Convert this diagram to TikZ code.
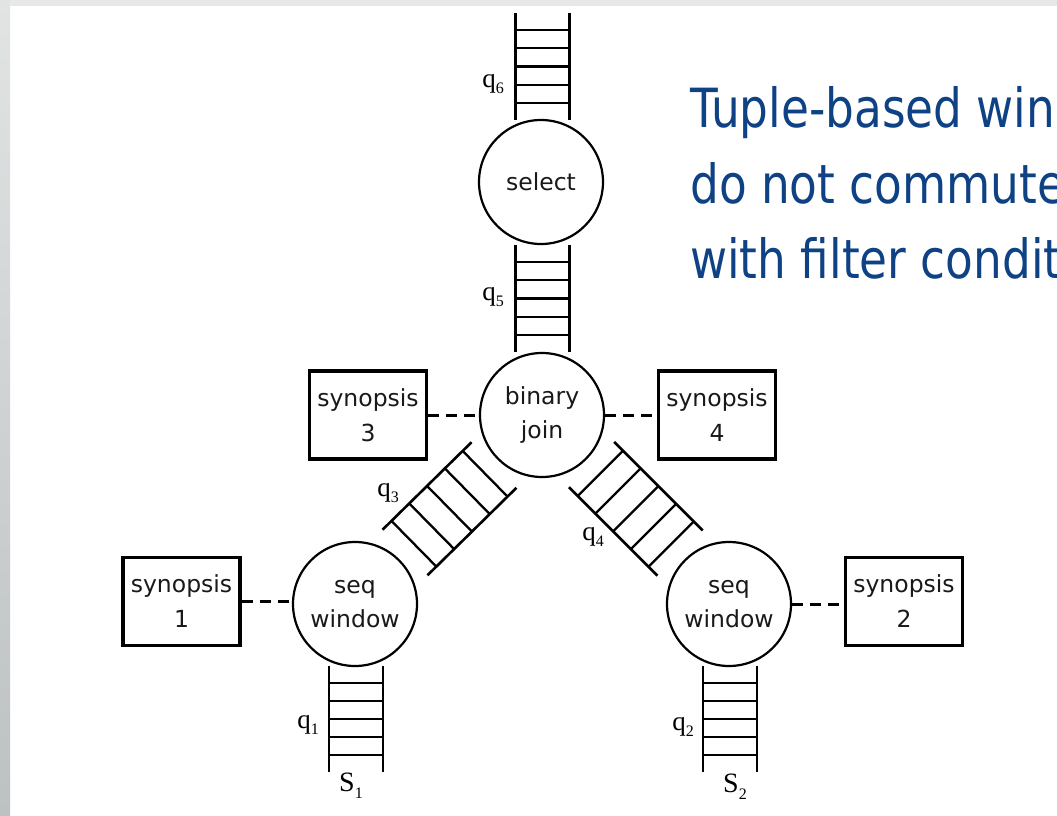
\documentclass[tikz,border=0pt]{standalone}
\usepackage{fontspec}
\setmainfont{DejaVu Sans}
\newfontfamily\qfont{Liberation Serif}
\newfontfamily\bluefont[FakeStretch=0.84]{DejaVu Sans}
\usetikzlibrary{calc}
\definecolor{slideblue}{RGB}{14,66,132}
\definecolor{edgegray}{RGB}{226,228,228}
\definecolor{edgedark}{RGB}{188,193,193}
\definecolor{topgray}{RGB}{230,231,232}
\definecolor{inkgray}{RGB}{25,25,25}
\tikzset{
  opcircle/.style={circle, draw, line width=2.2pt, minimum size=124pt, inner sep=0pt,
    align=center, text=inkgray, font=\fontsize{23.5}{34}\selectfont},
  synbox/.style={rectangle, draw, line width=3.5pt, minimum width=117pt,
    minimum height=88pt, inner sep=0pt, align=center, text=inkgray,
    font=\fontsize{23.5}{35}\selectfont},
  synlink/.style={line width=3pt, dash pattern=on 11pt off 7pt},
  rail/.style={line width=2.6pt},
  rung/.style={line width=2.3pt},
  qlabel/.style={font=\qfont\fontsize{27}{27}\selectfont, inner sep=0pt},
  headline/.style={font=\bluefont\fontsize{54}{54}\selectfont, text=slideblue,
    anchor=base west, inner sep=0pt},
}
\newcommand\qsub[2]{#1\raisebox{-0.25em}{\fontsize{16}{16}\selectfont #2}}
% #1 start, #2 end, #3 half width, #4 rung fractions
\newcommand\drawladder[4]{%
  \draw[rail] ($(#1)!#3!90:(#2)$) -- ($(#2)!#3!-90:(#1)$);
  \draw[rail] ($(#1)!#3!-90:(#2)$) -- ($(#2)!#3!90:(#1)$);
  \foreach \f in {#4} {
    \coordinate (lm) at ($(#1)!\f!(#2)$);
    \draw[rung] ($(lm)!#3!90:(#2)$) -- ($(lm)!#3!-90:(#2)$);
  }%
}
\begin{document}
\begin{tikzpicture}[x=1pt, y=-1pt]
  \useasboundingbox (0,0) rectangle (1057,816);
  \clip (0,0) rectangle (1057,816);
  \fill[white] (0,0) rectangle (1057,816);
  \shade[top color=edgegray, bottom color=edgedark] (0,0) rectangle (10,816);
  \fill[topgray] (10,0) rectangle (1057,6);

  % operators
  \node[opcircle] (select) at (541,182) {select};
  \node[opcircle] (join) at (542,415) {binary\\join};
  \node[opcircle] (win1) at (355,604) {seq\\window};
  \node[opcircle] (win2) at (729,604) {seq\\window};

  % synopses
  \node[synbox] (syn3) at (368,415) {synopsis\\3};
  \node[synbox] (syn4) at (717,415) {synopsis\\4};
  \node[synbox] (syn1) at (181.5,601.5) {synopsis\\1};
  \node[synbox] (syn2) at (904,601.5) {synopsis\\2};

  \draw[synlink] (syn3.east) -- (syn3.east -| join.west);
  \draw[synlink] (join.east) -- (join.east -| syn4.west);
  \draw[synlink] (syn1.east) -- (syn1.east -| win1.west);
  \draw[synlink] (win2.east) -- (win2.east -| syn2.west);

  % queue ends
  \coordinate (q6a) at (542.5,120);  \coordinate (q6b) at (542.5,13);
  \coordinate (q5a) at (542.5,352);  \coordinate (q5b) at (542.5,245);
  \coordinate (q1a) at (356,772);    \coordinate (q1b) at (356,666);
  \coordinate (q2a) at (730,772);    \coordinate (q2b) at (730,666);
  \coordinate (q3a) at (405,552.5);  \coordinate (q3b) at (494,465);
  \coordinate (q4a) at (680,553);    \coordinate (q4b) at (591.5,464.5);

  \drawladder{q6a}{q6b}{27pt}{0.16,0.33,0.5,0.67,0.84}
  \drawladder{q5a}{q5b}{27pt}{0.16,0.33,0.5,0.67,0.84}
  \drawladder{q1a}{q1b}{27pt}{0.16,0.33,0.5,0.67,0.84}
  \drawladder{q2a}{q2b}{27pt}{0.16,0.33,0.5,0.67,0.84}
  \drawladder{q3a}{q3b}{32pt}{0.1,0.3,0.5,0.7,0.9}
  \drawladder{q4a}{q4b}{32pt}{0.1,0.3,0.5,0.7,0.9}

  % queue labels
  \node[qlabel] (l6) at (493,84) {\qsub{q}{6}};
  \node[qlabel] (l5) at (493,297) {\qsub{q}{5}};
  \node[qlabel] (l3) at (388,493) {\qsub{q}{3}};
  \node[qlabel] (l4) at (593,537) {\qsub{q}{4}};
  \node[qlabel] (l1) at (308,725) {\qsub{q}{1}};
  \node[qlabel] (l2) at (683,727) {\qsub{q}{2}};
  \node[qlabel, font=\qfont\fontsize{28}{28}\selectfont] (s1) at (351,786) {\qsub{S}{1}};
  \node[qlabel, font=\qfont\fontsize{28}{28}\selectfont] (s2) at (735,787) {\qsub{S}{2}};

  % slide text
  \node[headline] (t1) at (690,127) {Tuple-based windows};
  \node[headline] (t2) at (690,203) {do not commute};
  \node[headline] (t3) at (690,278) {with filter conditions};
\end{tikzpicture}
\end{document}
